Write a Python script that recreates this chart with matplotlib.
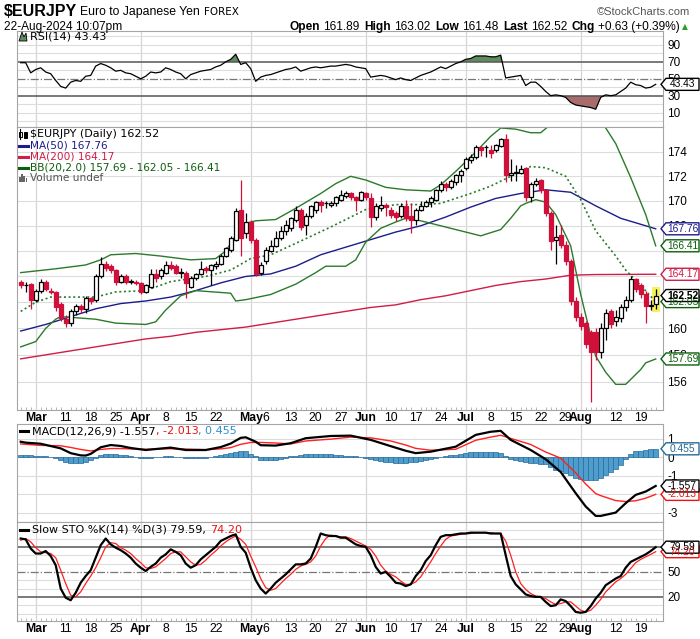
import numpy as np
import pandas as pd
import matplotlib
matplotlib.use("Agg")
import matplotlib.pyplot as plt
from matplotlib.patches import Polygon, Rectangle
from matplotlib.lines import Line2D
from matplotlib.ticker import NullLocator

W_PX, H_PX = 700, 639

# ---------------- data ----------------
dates = pd.bdate_range("2024-02-27", "2024-08-22")
day = np.arange(len(dates)) - 3          # trading day number, 0 = 1 Mar

opens = [163.6, 163.3, 163.4, 162.2, 162.9, 163.6, 162.9, 162.8, 161.9, 160.7,
         160.4, 161.3, 161.7, 161.5, 162.3, 162.2, 164.0, 165.0, 164.8, 164.5,
         163.6, 164.0, 163.6, 163.6, 163.5, 162.8, 163.2, 164.2, 164.0, 164.3,
         164.9, 164.8, 164.3, 164.3, 163.2, 163.9, 164.2, 164.7, 164.5, 164.8,
         165.0, 165.6, 166.1, 166.9, 169.3, 167.4, 168.3, 166.9, 164.3, 165.2,
         166.0, 166.4, 167.0, 167.6, 167.8, 168.5, 169.3, 168.1, 168.8, 169.3,
         169.9, 169.8, 169.7, 169.8, 170.1, 170.4, 170.6, 170.3, 170.1, 170.6,
         170.2, 168.7, 169.4, 169.7, 169.3, 169.0, 168.8, 169.6, 168.8, 168.5,
         169.3, 169.6, 169.9, 170.1, 170.9, 171.4, 171.1, 171.5, 172.1, 172.7,
         173.3, 173.6, 174.4, 174.4, 174.2, 174.2, 174.5, 175.1, 172.1, 172.3,
         172.3, 172.7, 170.3, 171.4, 171.7, 170.9, 169.0, 166.9, 167.3, 166.5,
         165.2, 162.1, 160.9, 160.4, 159.7, 159.7, 158.2, 160.0, 161.3, 160.6,
         160.8, 161.6, 162.2, 163.8, 163.3, 162.6, 161.7, 161.89]
highs = [163.7, 163.6, 163.5, 163.0, 163.8, 163.7, 163.1, 162.9, 162.0, 161.0,
         161.5, 161.9, 161.9, 162.5, 162.4, 164.2, 165.5, 165.2, 165.0, 164.6,
         164.2, 164.2, 163.8, 163.7, 163.6, 163.4, 164.6, 164.6, 164.7, 165.2,
         165.2, 165.0, 164.7, 164.4, 164.0, 164.3, 165.2, 164.8, 165.0, 165.2,
         165.8, 166.3, 167.2, 169.4, 171.7, 169.0, 168.5, 167.0, 165.1, 166.3,
         166.9, 167.6, 168.0, 168.5, 168.7, 169.6, 169.4, 169.0, 169.7, 170.0,
         170.1, 170.0, 170.0, 170.4, 170.9, 170.8, 170.7, 170.4, 170.8, 170.7,
         170.6, 169.8, 170.4, 169.8, 169.5, 169.2, 169.8, 170.1, 169.8, 169.4,
         170.0, 170.1, 170.4, 171.0, 171.6, 171.5, 171.8, 172.2, 172.6, 173.6,
         173.8, 174.6, 174.5, 174.6, 174.6, 174.7, 175.2, 175.5, 173.4, 172.9,
         172.9, 172.8, 171.5, 171.9, 171.8, 171.0, 169.2, 168.1, 168.1, 166.8,
         165.4, 162.4, 161.2, 160.6, 159.9, 160.0, 160.4, 161.5, 161.5, 161.4,
         161.9, 162.5, 164.0, 163.9, 163.5, 162.9, 162.2, 163.02]
lows = [163.1, 162.8, 161.5, 162.0, 162.7, 162.9, 162.6, 161.3, 160.6, 160.1,
        160.2, 161.0, 161.2, 161.2, 161.9, 162.0, 163.9, 164.4, 164.3, 163.3,
        163.5, 163.4, 163.4, 163.3, 162.6, 162.7, 163.1, 163.6, 163.8, 164.2,
        164.5, 164.2, 163.9, 162.3, 163.1, 163.7, 164.1, 164.3, 163.3, 164.6,
        164.9, 165.5, 165.9, 166.8, 165.6, 167.0, 166.6, 164.0, 164.1, 165.0,
        165.9, 166.3, 166.9, 167.3, 167.6, 168.3, 167.7, 167.3, 168.6, 169.0,
        169.1, 169.4, 169.5, 169.6, 170.0, 170.2, 170.1, 169.2, 170.0, 170.1,
        167.9, 168.5, 169.2, 168.8, 168.6, 168.4, 168.6, 168.4, 167.4, 168.1,
        169.2, 169.5, 169.5, 170.0, 170.7, 170.8, 171.0, 171.3, 171.5, 172.5,
        173.1, 173.4, 173.7, 173.6, 173.5, 174.0, 174.4, 171.5, 171.6, 171.6,
        172.2, 170.0, 169.9, 171.2, 170.6, 168.8, 166.1, 165.0, 166.2, 164.9,
        161.8, 160.6, 159.9, 158.5, 154.5, 157.6, 157.8, 159.1, 160.0, 160.2,
        160.5, 161.3, 162.0, 162.8, 162.3, 160.4, 161.4, 161.48]
closes = [163.3, 163.35, 162.2, 162.9, 163.6, 163.0, 162.8, 161.6, 160.8, 160.4,
          161.3, 161.7, 161.5, 162.3, 162.1, 164.0, 165.0, 164.7, 164.5, 163.6,
          164.0, 163.6, 163.6, 163.5, 162.8, 163.3, 164.2, 163.9, 164.5, 164.9,
          164.7, 164.3, 164.3, 163.5, 163.9, 164.2, 164.6, 164.5, 164.9, 165.0,
          165.6, 166.2, 167.0, 169.2, 167.0, 168.3, 166.9, 164.2, 164.9, 166.1,
          166.4, 167.0, 167.6, 168.1, 168.6, 169.3, 167.9, 168.8, 169.6, 169.9,
          169.7, 169.8, 169.8, 170.3, 170.5, 170.6, 170.3, 170.1, 170.7, 170.3,
          168.7, 169.6, 169.7, 169.5, 168.9, 168.7, 169.6, 168.6, 168.5, 169.3,
          169.6, 169.9, 170.2, 170.9, 171.4, 171.1, 171.6, 172.1, 172.4, 173.4,
          173.6, 174.4, 174.2, 174.4, 173.9, 174.6, 175.1, 172.1, 172.3, 172.3,
          172.6, 170.3, 171.4, 171.6, 170.9, 169.0, 166.8, 167.1, 166.5, 165.2,
          162.1, 160.9, 160.2, 158.8, 158.2, 158.2, 160.0, 161.2, 160.3, 160.9,
          161.6, 162.2, 163.8, 163.0, 162.6, 161.7, 161.8, 162.52]

# overlays, read at selected trading days (0 = 1 Mar)
ma50_day = [-3, 2, 7, 12, 17, 22, 27, 32, 37, 42, 47, 52, 57, 62, 67, 72, 77, 82,
            87, 92, 97, 102, 107, 112, 117, 122, 124]
ma50_val = [159.8, 160.3, 160.9, 161.5, 161.9, 162.1, 162.4, 162.9, 163.5, 164.0,
            164.2, 164.8, 165.7, 166.3, 166.9, 167.5, 168.0, 168.7, 169.5, 170.2,
            170.6, 170.9, 170.7, 169.6, 168.6, 168.0, 167.76]
ma200_day = ma50_day
ma200_val = [157.7, 158.0, 158.3, 158.6, 158.9, 159.2, 159.4, 159.7, 159.9, 160.1,
             160.4, 160.7, 161.0, 161.3, 161.6, 161.8, 162.2, 162.5, 162.9, 163.3,
             163.6, 163.8, 164.1, 164.15, 164.16, 164.17, 164.17]
bbu_day = [-3, 4, 10, 13, 15, 20, 25, 31, 36, 38, 40, 42, 44, 48, 52, 57, 60, 63, 66,
           70, 74, 79, 81, 84, 88, 91, 93, 96, 99, 101, 103, 106, 110, 113, 114, 116,
           119, 122, 124]
bbu_val = [164.3, 164.6, 164.9, 165.3, 165.7, 165.8, 165.6, 165.3, 165.4, 166.0,
           167.2, 168.2, 168.4, 168.5, 169.4, 170.6, 171.4, 172.0, 171.7, 171.1,
           170.9, 170.8, 171.3, 172.4, 174.0, 175.3, 176.0, 175.9, 175.6, 175.6,
           176.3, 177.0, 177.3, 176.6, 176.0, 174.7, 171.9, 168.9, 166.41]
bbm_day = [-3, 0, 3, 12, 16, 22, 27, 34, 39, 43, 47, 52, 59, 66, 72, 77, 81, 84, 87,
           91, 94, 97, 99, 102, 106, 109, 112, 116, 118, 121, 124]
bbm_val = [161.3, 162.0, 162.4, 162.4, 162.8, 162.9, 163.6, 164.0, 164.5, 165.4,
           165.7, 166.6, 167.9, 169.3, 169.7, 169.7, 169.8, 170.2, 170.6, 171.2,
           171.8, 172.4, 172.8, 172.7, 172.0, 170.1, 167.6, 165.6, 164.5, 163.3,
           162.05]
bbl_day = [-3, 0, 2, 4, 5, 12, 16, 22, 24, 26, 29, 32, 39, 40, 42, 47, 52, 56, 58,
           62, 64, 66, 69, 72, 74, 77, 84, 89, 93, 95, 97, 98, 100, 102, 104, 107,
           109, 112, 114, 116, 118, 121, 122, 124]
bbl_val = [158.6, 159.0, 160.0, 160.7, 160.9, 160.7, 160.4, 160.3, 160.5, 161.4,
           162.5, 162.9, 162.7, 162.1, 162.2, 162.6, 163.4, 164.3, 164.8, 164.8,
           165.3, 166.7, 167.8, 168.3, 168.6, 168.4, 167.7, 167.2, 167.7, 168.6,
           169.6, 169.8, 170.1, 169.9, 168.9, 166.4, 162.6, 157.9, 156.7, 155.8,
           155.8, 156.9, 157.4, 157.69]

rsi = [69, 69, 57, 61, 63, 58, 56, 48, 41, 39,
       46, 48, 47, 53, 54, 65, 68, 66, 63, 59,
       60, 57, 56, 53, 50, 53, 58, 57, 58, 63,
       61, 58, 56, 50, 55, 57, 59, 60, 61, 64,
       66, 70, 73, 79, 67, 69, 62, 47, 52, 54,
       55, 57, 59, 61, 62, 64, 59, 61, 63, 64,
       63, 64, 65, 65, 66, 67, 66, 64, 63, 62,
       52, 53, 54, 53, 51, 49, 51, 49, 48, 51,
       54, 56, 58, 61, 64, 62, 65, 68, 70, 73,
       74, 77, 77, 77, 76, 76, 78, 51, 52, 53,
       54, 42, 46, 46, 41, 35, 30, 31, 30, 28,
       22, 19, 18, 17, 16, 14, 28, 31, 30, 31,
       35, 39, 46, 43, 42, 39, 40, 43.43]

macd_day = [-3, -2, 1, 5, 7, 9, 10, 11, 13, 15, 17, 19, 22, 25, 27, 30, 34, 37, 39,
            41, 42, 44, 45, 48, 51, 54, 59, 63, 67, 71, 74, 76, 79, 84, 88, 91, 93,
            95, 99, 102, 105, 108, 110, 112, 113, 116, 118, 120, 122, 124]
macd_val = [0.84, 0.79, 0.73, 0.48, 0.22, 0.10, 0.09, 0.18, 0.54, 0.66, 0.61, 0.50,
            0.39, 0.47, 0.52, 0.39, 0.39, 0.55, 0.74, 1.05, 1.08, 0.84, 0.65, 0.63,
            0.76, 1.03, 1.15, 1.17, 0.94, 0.60, 0.35, 0.22, 0.30, 0.57, 1.21, 1.38,
            1.43, 0.94, 0.39, -0.11, -0.80, -1.95, -2.67, -3.18, -3.18, -3.0, -2.49,
            -2.04, -1.86, -1.557]
sig_day = [-3, 1, 5, 7, 9, 11, 13, 15, 17, 19, 22, 25, 27, 30, 34, 37, 39, 41, 43,
           45, 48, 51, 54, 59, 63, 67, 71, 74, 76, 79, 84, 88, 91, 93, 95, 99, 102,
           105, 108, 110, 112, 113, 116, 118, 120, 122, 124]
sig_val = [0.72, 0.64, 0.62, 0.53, 0.42, 0.34, 0.42, 0.47, 0.47, 0.45, 0.43, 0.45,
           0.46, 0.44, 0.41, 0.45, 0.52, 0.70, 0.80, 0.80, 0.77, 0.72, 0.88, 0.98,
           1.09, 1.05, 0.88, 0.66, 0.48, 0.38, 0.43, 0.92, 1.09, 1.19, 1.02, 0.69,
           0.28, -0.05, -0.85, -1.45, -1.97, -2.08, -2.35, -2.40, -2.36, -2.22,
           -2.013]
hist = [0.12, 0.11, 0.10, 0.09, 0.09, 0.05, 0.01, -0.06, -0.14, -0.24,
        -0.31, -0.33, -0.32, -0.26, -0.16, -0.02, 0.12, 0.17, 0.19, 0.17,
        0.14, 0.10, 0.05, 0.01, -0.02, -0.04, -0.03, 0.00, 0.02, 0.04,
        0.06, 0.03, 0.00, -0.05, -0.05, -0.04, -0.03, -0.02, 0.02, 0.06,
        0.10, 0.16, 0.22, 0.30, 0.35, 0.33, 0.20, 0.04, -0.15, -0.17,
        -0.15, -0.14, -0.08, -0.02, 0.04, 0.09, 0.12, 0.15, 0.16, 0.17,
        0.17, 0.17, 0.17, 0.14, 0.11, 0.09, 0.08, 0.04, 0.00, -0.05,
        -0.11, -0.15, -0.19, -0.24, -0.28, -0.30, -0.31, -0.31, -0.28, -0.26,
        -0.20, -0.14, -0.08, -0.03, 0.03, 0.07, 0.11, 0.14, 0.18, 0.23,
        0.27, 0.29, 0.30, 0.30, 0.29, 0.27, 0.24, 0.05, -0.08, -0.15,
        -0.22, -0.28, -0.30, -0.33, -0.36, -0.39, -0.55, -0.68, -0.75, -0.85,
        -0.98, -1.10, -1.18, -1.22, -1.22, -1.21, -1.10, -0.95, -0.80, -0.65,
        -0.40, -0.09, 0.18, 0.32, 0.35, 0.38, 0.42, 0.455]

sto_k = [90, 89, 78, 72, 72, 75, 69, 58, 30, 19,
         16, 25, 37, 45, 52, 67, 82, 90, 83, 79,
         76, 72, 67, 60, 55, 51, 56, 60, 67, 71,
         77, 74, 70, 60, 55, 58, 65, 70, 75, 80,
         87, 90, 93, 95, 80, 73, 55, 40, 30, 24,
         30, 37, 42, 47, 53, 59, 59, 60, 66, 80,
         96, 94, 93, 93, 91, 91, 87, 83, 81, 80,
         70, 56, 48, 50, 44, 37, 36, 33, 35, 45,
         52, 63, 70, 82, 92, 94, 94, 95, 96, 96,
         97, 97, 97, 97, 96, 96, 96, 70, 45, 35,
         29, 23, 21, 20, 20, 14, 9, 10, 17, 15,
         9, 2, 1, 2, 9, 18, 25, 34, 38, 42,
         45, 55, 62, 65, 68, 71, 75, 79.59]
sto_d = [88, 90, 86, 79, 74, 73, 72, 67, 52, 36,
         22, 20, 26, 36, 45, 55, 67, 80, 85, 84,
         79, 76, 72, 66, 61, 55, 54, 56, 61, 66,
         72, 74, 74, 68, 62, 58, 59, 64, 70, 75,
         81, 86, 90, 93, 89, 83, 69, 56, 42, 31,
         28, 30, 36, 42, 47, 53, 57, 59, 62, 69,
         81, 90, 94, 93, 92, 92, 90, 87, 84, 81,
         77, 69, 58, 51, 47, 44, 39, 35, 35, 38,
         44, 53, 62, 72, 81, 89, 93, 94, 95, 96,
         96, 97, 97, 97, 97, 96, 96, 87, 70, 50,
         36, 29, 24, 21, 20, 18, 14, 11, 12, 14,
         14, 9, 4, 2, 4, 10, 17, 26, 32, 38,
         42, 47, 54, 61, 65, 68, 71, 74.20]

tick_dates = ["2024-03-01", "2024-03-11", "2024-03-18", "2024-03-25", "2024-04-01",
              "2024-04-08", "2024-04-15", "2024-04-22", "2024-05-01", "2024-05-06",
              "2024-05-13", "2024-05-20", "2024-05-27", "2024-06-03", "2024-06-10",
              "2024-06-17", "2024-06-24", "2024-07-01", "2024-07-08", "2024-07-15",
              "2024-07-22", "2024-07-29", "2024-08-01", "2024-08-12", "2024-08-19"]
tick_text = ["Mar", "11", "18", "25", "Apr", "8", "15", "22", "May", "6", "13", "20",
             "27", "Jun", "10", "17", "24", "Jul", "8", "15", "22", "29", "Aug", "12",
             "19"]
months = ["Mar", "Apr", "May", "Jun", "Jul", "Aug"]

# ---------------- style ----------------
RED = "#d0103a"
NAVY = "#1c1c8c"
CRIMSON = "#d01c48"
GREEN = "#2b7a2b"
DKGREEN = "#0d5f0d"
BLUE = "#4f9dcc"
BLUE_EDGE = "#276a98"
GRID = "#dddddd"
SPINE = "#a5a5a5"
NARROW = ["Liberation Sans Narrow", "Liberation Sans", "DejaVu Sans"]
plt.rcParams["font.family"] = ["DejaVu Sans"]

fig = plt.figure(figsize=(7, 6.39), dpi=100)


def fx(x):
    return x / W_PX


def fy(y):
    return 1 - y / H_PX


def panel(top, bottom):
    return fig.add_axes([fx(17), fy(bottom), fx(646), (bottom - top) / H_PX])


ax_rsi = panel(31, 127)
ax_px = panel(127, 410)
ax_macd = panel(424, 522)
ax_sto = panel(522, 621)

tick_pos = [dates.get_loc(pd.Timestamp(d)) - 3 for d in tick_dates]
month_pos = [p for p, t in zip(tick_pos, tick_text) if t in months]

for ax in (ax_rsi, ax_px, ax_macd, ax_sto):
    ax.set_xlim(-3.74, 125.46)
    ax.yaxis.tick_right()
    ax.tick_params(axis="y", length=0, pad=3)
    ax.tick_params(axis="x", which="major", length=0, pad=1.5)
    for s in ax.spines.values():
        s.set_color(SPINE)
    for p in month_pos:
        ax.axvline(p, color="#d6d6d6", lw=0.9, zorder=0)
    ax.set_xticks(tick_pos)
    ax.tick_params(labelbottom=False)

for ax in (ax_px, ax_sto):
    ax.set_xticks(tick_pos, tick_text, fontsize=8.8, family=NARROW)
    ax.tick_params(labelbottom=True)
    for lab, t in zip(ax.get_xticklabels(), tick_text):
        if t in months:
            lab.set_fontweight("bold")
    ax.set_xticks(day, minor=True)
    ax.tick_params(axis="x", which="minor", length=2, color="#aaaaaa", direction="in")

# ---- RSI ----
rsi_a = np.array(rsi)
ax_rsi.set_ylim(-7, 106.5)
ax_rsi.set_yticks([10, 30, 50, 70, 90], ["10", "30", "50", "70", "90"],
                  fontsize=8.5, family=NARROW)
for g in (0, 10, 20, 40, 60, 80, 90, 100):
    ax_rsi.axhline(g, color=GRID, lw=0.8, zorder=0)
ax_rsi.axhline(70, color="#555555", lw=1.1)
ax_rsi.axhline(30, color="#555555", lw=1.1)
ax_rsi.axhline(50, color="#777777", lw=0.9, ls="-.")
ax_rsi.fill_between(day, rsi_a, 70, where=rsi_a >= 70, interpolate=True,
                    color="#5f8c5f", lw=0)
ax_rsi.fill_between(day, rsi_a, 30, where=rsi_a <= 30, interpolate=True,
                    color="#a86c6c", lw=0)
ax_rsi.plot(day, rsi_a, color="black", lw=0.9)

# ---- price ----
o, h, l, c = (np.array(v) for v in (opens, highs, lows, closes))
ax_px.set_yscale("log")
ax_px.set_ylim(153.91, 176.08)
pt = [156, 158, 160, 168, 170, 172, 174]      # the others sit under the value tags
ax_px.set_yticks(pt, [str(v) for v in pt], fontsize=8.5, family=NARROW)
ax_px.yaxis.set_minor_locator(NullLocator())
for v in range(156, 176, 2):
    ax_px.axhline(v, color=GRID, lw=0.8, zorder=0)

ax_px.add_patch(Rectangle((day[-1] - 0.8, 161.25), 1.6, 1.95, color="#f4f25a",
                          zorder=1, lw=0))
ax_px.plot(ma200_day, ma200_val, color=CRIMSON, lw=1.0, zorder=2)
ax_px.plot(ma50_day, ma50_val, color=NAVY, lw=1.0, zorder=2)
ax_px.plot(bbu_day, bbu_val, color=GREEN, lw=1.0, zorder=2)
ax_px.plot(bbl_day, bbl_val, color=GREEN, lw=1.0, zorder=2)
ax_px.plot(bbm_day, bbm_val, color=GREEN, lw=1.2, ls=(0, (1.2, 1.6)), zorder=2)

up = c >= o
lo_b = np.minimum(o, c)
hgt = np.maximum(np.abs(c - o), 0.03)
ax_px.vlines(day[up], l[up], h[up], color="black", lw=0.9, zorder=3)
ax_px.vlines(day[~up], l[~up], h[~up], color=RED, lw=0.9, zorder=3)
ax_px.bar(day[up], hgt[up], bottom=lo_b[up], width=0.72, facecolor="white",
          edgecolor="black", lw=0.9, zorder=4)
ax_px.bar(day[~up], hgt[~up], bottom=lo_b[~up], width=0.72, facecolor=RED,
          edgecolor=RED, lw=0.9, zorder=4)

# ---- MACD ----
ax_macd.set_ylim(-3.51, 1.8)
ax_macd.set_yticks([1, 0, -1, -3], ["1", "0", "-1", "-3"],
                   fontsize=8.5, family=NARROW)
for g in (1, 0, -1, -2, -3):
    ax_macd.axhline(g, color=GRID, lw=0.8, zorder=0)
ax_macd.bar(day, hist, width=0.9, color=BLUE, edgecolor=BLUE_EDGE, lw=0.5, zorder=2)
ax_macd.plot(sig_day, sig_val, color="#ff2020", lw=1.0, zorder=3)
ax_macd.plot(macd_day, macd_val, color="black", lw=1.6, zorder=4)

# ---- Slow stochastic ----
ax_sto.set_ylim(-8.9, 109.8)
ax_sto.set_yticks([20, 50], ["20", "50"], fontsize=8.5, family=NARROW)
for g in (0, 10, 30, 40, 60, 70, 90, 100):
    ax_sto.axhline(g, color=GRID, lw=0.8, zorder=0)
ax_sto.axhline(80, color="#555555", lw=1.1)
ax_sto.axhline(20, color="#555555", lw=1.1)
ax_sto.axhline(50, color="#777777", lw=0.9, ls="-.")
ax_sto.plot(day, sto_d, color="#ff2020", lw=0.9, zorder=3)
ax_sto.plot(day, sto_k, color="black", lw=1.6, zorder=4)


# ---------------- value tags on the right ----------------
def tag(ax, val, text, color, bold=False):
    yd = ax.transData.transform((0, val))[1]
    xd = ax.transAxes.transform((1, 0))[0] - 2
    hh = 6
    pts = [(xd, yd), (xd + 5, yd + hh), (xd + 38, yd + hh), (xd + 38, yd - hh),
           (xd + 5, yd - hh)]
    pts = [(px / W_PX, py / H_PX) for px, py in pts]
    fig.add_artist(Polygon(pts, closed=True, transform=fig.transFigure,
                           facecolor="white", edgecolor=color, lw=1.0))
    fig.text((xd + 21.5) / W_PX, yd / H_PX, text, color=color,
             ha="center", va="center", fontsize=7.4, family=NARROW,
             fontweight="bold" if bold else "normal")


tag(ax_rsi, 43.43, "43.43", "black")
tag(ax_px, 167.76, "167.76", NAVY)
tag(ax_px, 166.41, "166.41", DKGREEN)
tag(ax_px, 164.17, "164.17", CRIMSON)
tag(ax_px, 162.05, "162.05", DKGREEN)
tag(ax_px, 162.52, "162.52", "black", bold=True)
tag(ax_px, 157.69, "157.69", DKGREEN)
tag(ax_macd, 0.455, "0.455", BLUE_EDGE)
tag(ax_macd, -2.013, "-2.013", "#ee1111")
tag(ax_macd, -1.557, "-1.557", "black")
tag(ax_sto, 74.20, "74.20", "#ee1111")
tag(ax_sto, 79.59, "79.59", "black")


# ---------------- text ----------------
def chain(x, y, pieces, ha="left"):
    r = fig.canvas.get_renderer()
    arts, widths = [], []
    for s, kw, gap in pieces:
        t = fig.text(0, fy(y), s, va="center", **kw)
        arts.append(t)
        widths.append(t.get_window_extent(r).width + gap)
    if ha == "right":
        x -= sum(widths)
    for t, w in zip(arts, widths):
        t.set_x(fx(x))
        x += w


NB = dict(family=NARROW, fontsize=8.6, fontweight="bold")
NR = dict(family=NARROW, fontsize=8.6)
chain(4, 12, [("$EURJPY", dict(family=NARROW, fontsize=11.5, fontweight="bold"), 3),
              ("Euro to Japanese Yen", dict(family=NARROW, fontsize=8.8), 4),
              ("FOREX", dict(fontsize=7.5), 0)])
fig.text(fx(690), fy(12), "©StockCharts.com", ha="right", va="center",
         fontsize=8, family=NARROW, color="#555555")
fig.text(fx(4), fy(27), "22-Aug-2024 10:07pm", va="center", **NR)
chain(688, 27, [("Open", NB, 3), ("161.89", NR, 5), ("High", NB, 3), ("163.02", NR, 5),
                ("Low", NB, 3), ("161.48", NR, 5), ("Last", NB, 3), ("162.52", NR, 5),
                ("Chg", NB, 3), ("+0.63 (+0.39%)", NR, 2),
                ("▲", dict(fontsize=5.5, color="#22a022"), 0)], ha="right")

# RSI legend
fig.add_artist(Polygon([(fx(19), fy(41)), (fx(22), fy(32)), (fx(24), fy(37)),
                        (fx(26), fy(33)), (fx(27), fy(41))], closed=True,
                       transform=fig.transFigure, facecolor="#5f8c5f",
                       edgecolor="black", lw=0.6))
fig.text(fx(30), fy(36.5), "RSI(14) 43.43", va="center", fontsize=8)

# price legend
fig.text(fx(30), fy(134), "$EURJPY (Daily) 162.52", va="center", fontsize=8)
fig.add_artist(Line2D([fx(20), fx(20)], [fy(129), fy(139)], color="black", lw=0.8))
fig.add_artist(Rectangle((fx(18.5), fy(137)), fx(3), 5 / H_PX, transform=fig.transFigure,
                         facecolor="white", edgecolor="black", lw=0.7))
fig.add_artist(Rectangle((fx(23.5), fy(138)), fx(3), 6 / H_PX, transform=fig.transFigure,
                         facecolor="black", edgecolor="black", lw=0.7))
legend_rows = [(145.5, "MA(50) 167.76", NAVY), (156.5, "MA(200) 164.17", CRIMSON),
               (167.5, "BB(20,2.0) 157.69 - 162.05 - 166.41", DKGREEN)]
for yy, txt, col in legend_rows:
    fig.add_artist(Line2D([fx(19), fx(28)], [fy(yy), fy(yy)], color=col, lw=2.2))
    fig.text(fx(30), fy(yy), txt, va="center", fontsize=7.6, color=col)
for k, hb in enumerate((5, 8, 6, 4)):
    fig.add_artist(Rectangle((fx(19 + 2.2 * k), fy(182)), fx(1.6), hb / H_PX,
                             transform=fig.transFigure, color="#666666", lw=0))
fig.text(fx(30), fy(178), "Volume undef", va="center", fontsize=7.6, color="#555555")

# MACD legend
fig.add_artist(Line2D([fx(20), fx(28)], [fy(431), fy(431)], color="black", lw=2.2))
chain(32, 431, [("MACD(12,26,9) -1.557", dict(fontsize=8), 0),
                (", -2.013", dict(fontsize=8, color="#ee1111"), 0),
                (", 0.455", dict(fontsize=8, color="#2f8fcf"), 0)])

# STO legend
fig.add_artist(Line2D([fx(20), fx(28)], [fy(530), fy(530)], color="black", lw=2.2))
chain(32, 530, [("Slow STO %K(14) %D(3) 79.59,", dict(fontsize=8), 4),
                ("74.20", dict(fontsize=8, color="#ee1111"), 0)])

fig.savefig("out.png", dpi=100)
